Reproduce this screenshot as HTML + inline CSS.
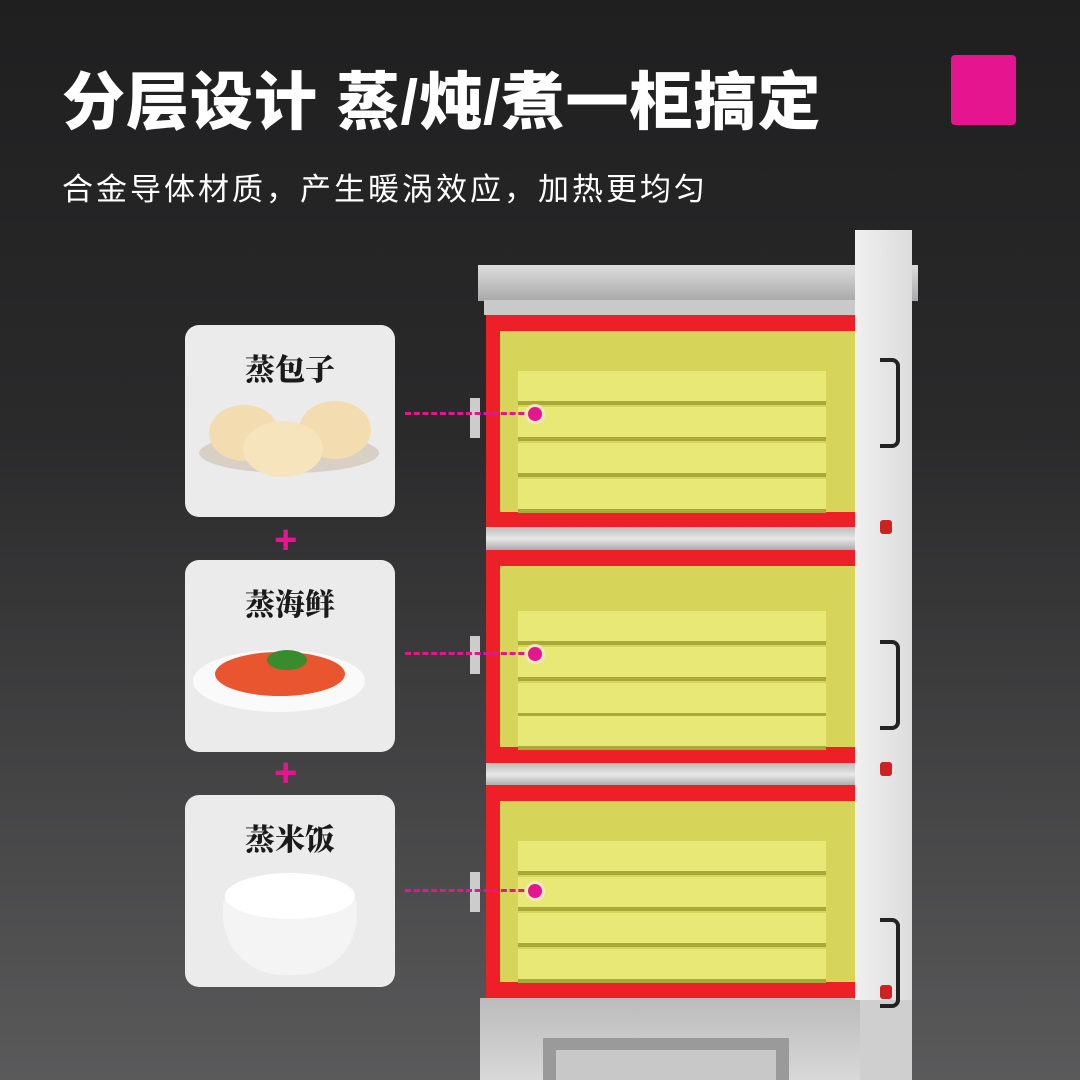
<!DOCTYPE html>
<html><head><meta charset="utf-8"><style>
body{margin:0}
#c{position:relative;width:1080px;height:1080px;overflow:hidden;background:linear-gradient(180deg,#1f1f20 0%,#2a2a2b 40%,#4a4a4b 80%,#5a5a5b 100%);font-family:"Liberation Sans","Noto Sans CJK SC",sans-serif}
.a{position:absolute}
.t{left:62px;top:52px;color:#fff;font-size:63px;font-weight:900;letter-spacing:1px;white-space:nowrap}
.s{left:62px;top:164px;color:#fff;font-size:31px;letter-spacing:3px;white-space:nowrap}
.card{position:absolute;left:185px;width:210px;height:192px;background:#ebebeb;border-radius:14px}
.card b{position:absolute;left:0;right:0;top:20px;text-align:center;font-family:"Noto Serif CJK SC",serif;font-size:30px;color:#1a1a1a;font-weight:900}
.plus{position:absolute;left:274px;color:#e5158f;font-size:40px;font-weight:bold;line-height:1}
.red{position:absolute;left:486px;width:370px;height:213px;background:#ee2027}
.yel{position:absolute;left:14px;top:16px;right:0;bottom:16px;background:#d6d55a}
.sh{position:absolute;left:18px;right:30px;height:30px;background:#e8e877;border-bottom:4px solid #a9a83a}
.dash{position:absolute;left:405px;width:128px;border-top:3px dashed #e5158f}
.dot{position:absolute;left:528px;width:14px;height:14px;border-radius:50%;background:#e5158f;box-shadow:0 0 0 3px #f0e9c0}
.sep{position:absolute;left:486px;width:370px;height:23px;background:linear-gradient(#bbb,#e8e8e8,#aaa)}
.hd{position:absolute;left:880px;width:16px;height:82px;border:4px solid #222;border-left:none;border-radius:0 8px 8px 0}
</style></head><body><div id="c">
<div class="a t">分层设计 蒸/炖/煮一柜搞定</div>
<div class="a s">合金导体材质，产生暖涡效应，加热更均匀</div>
<div class="a" style="left:951px;top:55px;width:65px;height:70px;background:#e5158f;border-radius:4px"></div>

<div class="a" style="left:478px;top:265px;width:440px;height:36px;background:linear-gradient(#ddd,#a9a9a9)"></div>
<div class="a" style="left:484px;top:300px;width:375px;height:15px;background:#c9c9c9"></div>
<div class="red" style="top:315px"><div class="yel"><div class="sh" style="top:40px"></div><div class="sh" style="top:76px"></div><div class="sh" style="top:112px"></div><div class="sh" style="top:148px"></div></div></div>
<div class="sep" style="top:527px"></div>
<div class="red" style="top:550px"><div class="yel"><div class="sh" style="top:45px"></div><div class="sh" style="top:81px"></div><div class="sh" style="top:117px"></div><div class="sh" style="top:150px"></div></div></div>
<div class="sep" style="top:763px"></div>
<div class="red" style="top:785px"><div class="yel"><div class="sh" style="top:40px"></div><div class="sh" style="top:76px"></div><div class="sh" style="top:112px"></div><div class="sh" style="top:148px"></div></div></div>
<div class="a" style="left:480px;top:998px;width:380px;height:82px;background:linear-gradient(#bbb,#d8d8d8)"></div>
<div class="a" style="left:543px;top:1038px;width:246px;height:42px;background:#9a9a9a"></div>
<div class="a" style="left:556px;top:1050px;width:220px;height:30px;background:#c8c8c8"></div>
<div class="a" style="left:855px;top:230px;width:57px;height:770px;background:linear-gradient(90deg,#f0f0f0,#dcdcdc)"></div>
<div class="a" style="left:860px;top:1000px;width:52px;height:80px;background:#cfcfcf"></div>
<div class="hd" style="top:358px"></div><div class="hd" style="top:640px"></div><div class="hd" style="top:918px"></div>
<div class="a" style="left:880px;top:520px;width:12px;height:14px;background:#c22;border-radius:3px"></div>
<div class="a" style="left:880px;top:762px;width:12px;height:14px;background:#c22;border-radius:3px"></div>
<div class="a" style="left:880px;top:985px;width:12px;height:14px;background:#c22;border-radius:3px"></div>
<div class="a" style="left:470px;top:398px;width:10px;height:40px;background:#ccc"></div>
<div class="a" style="left:470px;top:636px;width:10px;height:38px;background:#ccc"></div>
<div class="a" style="left:470px;top:872px;width:10px;height:40px;background:#ccc"></div>

<div class="card" style="top:325px"><b>蒸包子</b>
<div class="a" style="left:14px;top:108px;width:180px;height:40px;border-radius:50%;background:#d8d0c4"></div>
<div class="a" style="left:24px;top:80px;width:70px;height:56px;border-radius:50%;background:#f2dcb0"></div>
<div class="a" style="left:114px;top:76px;width:72px;height:58px;border-radius:50%;background:#f2dcb0"></div>
<div class="a" style="left:58px;top:96px;width:80px;height:56px;border-radius:50%;background:#f6e4bd"></div></div>
<div class="plus" style="top:520px">+</div>
<div class="card" style="top:560px"><b>蒸海鲜</b>
<div class="a" style="left:8px;top:90px;width:172px;height:62px;border-radius:50%;background:#fafafa"></div>
<div class="a" style="left:30px;top:92px;width:130px;height:44px;border-radius:50%;background:#e8552e"></div>
<div class="a" style="left:82px;top:90px;width:40px;height:20px;border-radius:50%;background:#3a8a2e"></div></div>
<div class="plus" style="top:753px">+</div>
<div class="card" style="top:795px"><b>蒸米饭</b>
<div class="a" style="left:38px;top:100px;width:134px;height:80px;border-radius:10px 10px 60px 60px;background:#f4f4f4"></div>
<div class="a" style="left:40px;top:78px;width:130px;height:46px;border-radius:50%;background:#fff"></div></div>

<div class="dash" style="top:412px"></div><div class="dot" style="top:407px"></div>
<div class="dash" style="top:652px"></div><div class="dot" style="top:647px"></div>
<div class="dash" style="top:889px"></div><div class="dot" style="top:884px"></div>
</div></body></html>
